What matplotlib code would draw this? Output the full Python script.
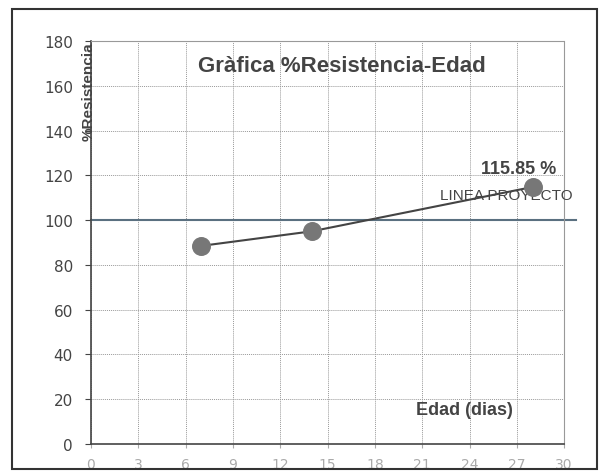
import matplotlib
matplotlib.use("Agg")
import matplotlib.pyplot as plt
import matplotlib.patches as mpatches

# datos
edad = [7, 14, 28]
resistencia = [88.5, 95.0, 114.8]
linea_proyecto = 100
etiqueta_final = "115.85 %"
x_ticks = [0, 3, 6, 9, 12, 15, 18, 21, 24, 27, 30]
y_ticks = [0, 20, 40, 60, 80, 100, 120, 140, 160, 180]

fig = plt.figure(figsize=(6.06, 4.77), dpi=100)
fig.patch.set_facecolor("white")
fig.patches.append(mpatches.Rectangle((0.02, 0.015), 0.965, 0.965, transform=fig.transFigure,
                                      fill=False, edgecolor="#333333", linewidth=1.5))

ax = fig.add_axes([0.150, 0.067, 0.781, 0.845])
ax.set_xlim(0, 30)
ax.set_ylim(0, 180)
ax.set_xticks(x_ticks)
ax.set_yticks(y_ticks)
ax.tick_params(axis="x", colors="#aaaaaa", labelsize=10, length=3, pad=6)
ax.tick_params(axis="y", colors="#444444", labelsize=11, length=4, pad=9, labelcolor="#444444")
ax.grid(True, color="#999999", linestyle=(0, (1, 1)), linewidth=0.7)
for side in ["top", "right"]:
    ax.spines[side].set_color("#999999")
    ax.spines[side].set_linestyle((0, (1, 1)))
for side in ["left", "bottom"]:
    ax.spines[side].set_color("#444444")
    ax.spines[side].set_linewidth(1.2)

ax.axhline(linea_proyecto, xmin=0, xmax=1.025, color="#5a7080", linewidth=1.5, clip_on=False)
ax.plot(edad, resistencia, color="#444444", linewidth=1.5, zorder=3)
ax.scatter(edad, resistencia, s=160, color="#777777", zorder=4)

ax.text(0.53, 0.94, "Gràfica %Resistencia-Edad", transform=ax.transAxes, ha="center", va="center",
        fontsize=16, fontweight="bold", color="#444444", family="Liberation Sans")
ax.text(-0.004, 1.0, "%Resistencia", transform=ax.transAxes, rotation=90, ha="center", va="top",
        fontsize=11, fontweight="bold", color="#444444", family="Liberation Sans")
ax.text(0.79, 0.085, "Edad (dias)", transform=ax.transAxes, ha="center", va="center",
        fontsize=13, fontweight="bold", color="#444444", family="Liberation Sans")
ax.text(27.1, 123, etiqueta_final, ha="center", va="center",
        fontsize=13, fontweight="bold", color="#444444", family="Liberation Sans")
ax.text(26.3, 111, "LINEA PROYECTO", ha="center", va="center",
        fontsize=11, color="#444444", family="Liberation Sans")

fig.savefig("out.png", dpi=100)
